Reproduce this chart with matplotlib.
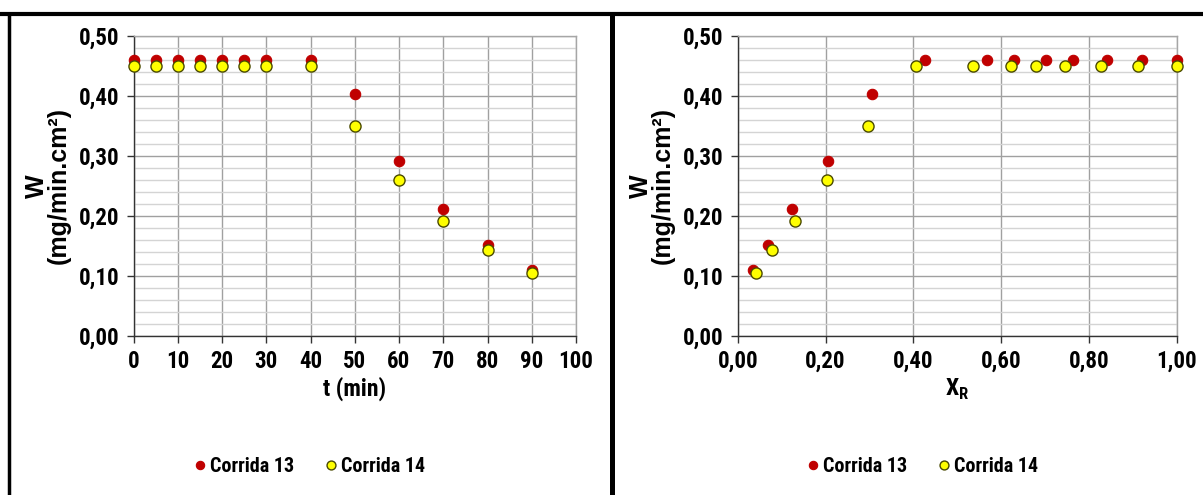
import matplotlib
matplotlib.use("Agg")
import matplotlib.pyplot as plt
from matplotlib import font_manager
from matplotlib.lines import Line2D
from matplotlib.ticker import MultipleLocator, FuncFormatter

# ---- data ----
t_min = [0, 5, 10, 15, 20, 25, 30, 40, 50, 60, 70, 80, 90]
w_c13_t = [0.46, 0.46, 0.46, 0.46, 0.46, 0.46, 0.46, 0.46, 0.403, 0.291, 0.211, 0.151, 0.11]
w_c14_t = [0.45, 0.45, 0.45, 0.45, 0.45, 0.45, 0.45, 0.45, 0.35, 0.26, 0.192, 0.143, 0.105]

xr_c13 = [0.034, 0.069, 0.124, 0.205, 0.305, 0.427, 0.567, 0.629, 0.702, 0.764, 0.840, 0.920, 1.0]
w_c13_x = [0.11, 0.151, 0.211, 0.291, 0.403, 0.46, 0.46, 0.46, 0.46, 0.46, 0.46, 0.46, 0.46]
xr_c14 = [0.041, 0.077, 0.130, 0.204, 0.296, 0.405, 0.536, 0.621, 0.678, 0.744, 0.826, 0.911, 1.0]
w_c14_x = [0.105, 0.143, 0.192, 0.26, 0.35, 0.45, 0.45, 0.45, 0.45, 0.45, 0.45, 0.45, 0.45]

series_names = ["Corrida 13", "Corrida 14"]

# ---- fonts ----
available = {f.name for f in font_manager.fontManager.ttflist}
narrow = next((f for f in ["Liberation Sans Narrow", "Arial Narrow", "Roboto Condensed",
                           "Liberation Sans"] if f in available), "DejaVu Sans")
regular = next((f for f in ["Liberation Sans", "Arial"] if f in available), "DejaVu Sans")

RED = "#C00000"
YELLOW = "#FFFF00"
YEDGE = "#4A4A00"

W, H = 1203, 495
fig = plt.figure(figsize=(W / 100, H / 100), dpi=100)


def comma(fmt):
    return FuncFormatter(lambda v, p: (fmt % v).replace(".", ","))


def setup(ax, xmax, xstep, xfmt):
    ax.set_ylim(0, 0.5)
    ax.set_xlim(0, xmax)
    ax.yaxis.set_major_locator(MultipleLocator(0.1))
    ax.yaxis.set_minor_locator(MultipleLocator(0.02))
    ax.xaxis.set_major_locator(MultipleLocator(xstep))
    ax.yaxis.set_major_formatter(comma("%.2f"))
    ax.xaxis.set_major_formatter(comma(xfmt))
    ax.grid(True, which="major", axis="both", color="#A0A0A0", lw=1.0)
    ax.grid(True, which="minor", axis="y", color="#D4D4D4", lw=1.0)
    ax.set_axisbelow(True)
    for s in ("top", "right"):
        ax.spines[s].set_color("#A6A6A6")
        ax.spines[s].set_linewidth(1.0)
    for s in ("left", "bottom"):
        ax.spines[s].set_color("#333333")
        ax.spines[s].set_linewidth(1.0)
    ax.tick_params(which="major", direction="out", length=5, width=1, color="#333333",
                   labelsize=16.5, pad=5)
    ax.tick_params(which="minor", length=0)
    ax.tick_params(axis="x", pad=5)
    for lab in ax.get_xticklabels() + ax.get_yticklabels():
        lab.set_fontfamily(narrow)
        lab.set_fontweight("bold")
    ax.set_ylabel("W\n(mg/min.cm²)", fontsize=18, fontweight="bold", family=regular,
                  labelpad=6, linespacing=0.9)


def scatter(ax, x13, y13, x14, y14):
    ax.plot(x13, y13, ls="none", marker="o", ms=7.5, mfc=RED, mec=RED, mew=0.8,
            label=series_names[0], clip_on=False, zorder=3)
    ax.plot(x14, y14, ls="none", marker="o", ms=8, mfc=YELLOW, mec=YEDGE, mew=1.0,
            label=series_names[1], clip_on=False, zorder=4)


def legend(ax, xc):
    leg = ax.legend(loc="center", bbox_to_anchor=(xc / W, 1 - 467 / H),
                    bbox_transform=fig.transFigure, ncol=2, frameon=False,
                    prop={"family": narrow, "weight": "bold", "size": 14.5},
                    handletextpad=0.05, columnspacing=1.4, handlelength=0.9,
                    markerscale=0.8)
    return leg


# left panel: W vs time
ax1 = fig.add_axes([133.5 / W, 1 - 336 / H, (576 - 133.5) / W, 300 / H])
scatter(ax1, t_min, w_c13_t, t_min, w_c14_t)
setup(ax1, 100, 10, "%.0f")
ax1.set_xlabel("t (min)", fontsize=17, fontweight="bold", family=narrow, labelpad=3)
legend(ax1, 308)

# right panel: W vs conversion
ax2 = fig.add_axes([737.7 / W, 1 - 336 / H, (1177 - 737.7) / W, 300 / H])
scatter(ax2, xr_c13, w_c13_x, xr_c14, w_c14_x)
setup(ax2, 1.0, 0.2, "%.2f")
ax2.set_xlabel("X$_\\mathregular{R}$", fontsize=17, fontweight="bold", family=narrow,
               labelpad=3)
legend(ax2, 921)

# panel frames
fig.add_artist(Line2D([0, 1], [1 - 14 / H, 1 - 14 / H], transform=fig.transFigure,
                      color="black", lw=3.0))
fig.add_artist(Line2D([8.5 / W, 8.5 / W], [0, 1 - 14 / H], transform=fig.transFigure,
                      color="black", lw=2.5))
fig.add_artist(Line2D([611.5 / W, 611.5 / W], [0, 1 - 14 / H], transform=fig.transFigure,
                      color="black", lw=3.6))

fig.savefig("out.png", dpi=100)
